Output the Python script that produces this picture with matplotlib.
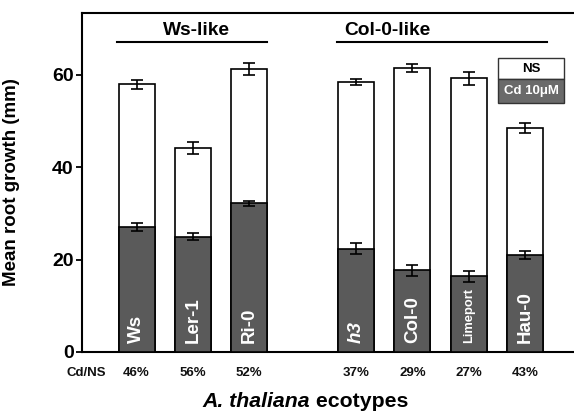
import numpy as np
import matplotlib
matplotlib.use('Agg')
import matplotlib.pyplot as plt
from matplotlib.patches import Rectangle

plt.rcParams['font.family'] = ['Liberation Sans', 'DejaVu Sans']

# data
ecotypes = ['Ws', 'Ler-1', 'Ri-0', 'h3', 'Col-0', 'Limeport', 'Hau-0']
ns_mean = [58.0, 44.2, 61.2, 58.5, 61.5, 59.3, 48.5]
ns_err = [1.0, 1.3, 1.3, 0.7, 0.9, 1.4, 1.0]
cd_mean = [27.0, 25.0, 32.2, 22.4, 17.7, 16.4, 21.0]
cd_err = [0.9, 0.7, 0.6, 1.2, 1.2, 1.2, 0.9]
ratio_labels = ['46%', '56%', '52%', '37%', '29%', '27%', '43%']
groups = ['Ws-like', 'Col-0-like']

xpos = np.array([0, 1, 2, 3.9, 4.9, 5.9, 6.9])
width = 0.64
dark = '#5a5a5a'

fig = plt.figure(figsize=(5.74, 4.13), dpi=100)
ax = fig.add_axes([0.1429, 0.1477, 0.8571, 0.8208])

# white NS bars behind, dark Cd bars in front (not stacked)
ax.bar(xpos, ns_mean, width, color='white', edgecolor='black', linewidth=1.2, zorder=2)
ax.errorbar(xpos, ns_mean, yerr=ns_err, fmt='none', ecolor='black', elinewidth=1.2,
            capsize=4, capthick=1.2, zorder=3)
ax.bar(xpos, cd_mean, width, color=dark, edgecolor='black', linewidth=1.2, zorder=4)
ax.errorbar(xpos, cd_mean, yerr=cd_err, fmt='none', ecolor='black', elinewidth=1.2,
            capsize=4, capthick=1.2, zorder=5)

# names inside the dark bars
for i in range(len(ecotypes)):
    name = ecotypes[i]
    size = 13.5
    style = 'normal'
    if name == 'Limeport':
        size = 9.3
    if name == 'h3':
        style = 'italic'
    ax.text(xpos[i], 2.0, name, rotation=90, ha='center', va='bottom', color='white',
            fontsize=size, fontweight='bold', fontstyle=style, zorder=6)

# Cd/NS row under the axis
ax.text(-0.885, -0.062, 'Cd/NS', transform=ax.get_xaxis_transform(), ha='center',
        va='center', fontsize=9.5, fontweight='bold', color='#111111')
for i in range(len(xpos)):
    ax.text(xpos[i], -0.062, ratio_labels[i], transform=ax.get_xaxis_transform(),
            ha='center', va='center', fontsize=9.5, fontweight='bold', color='#111111')

# group brackets
ax.plot([-0.35, 2.32], [67.1, 67.1], color='black', linewidth=1.5, clip_on=False)
ax.plot([3.56, 7.29], [67.1, 67.1], color='black', linewidth=1.5, clip_on=False)
ax.text(1.07, 69.7, groups[0], ha='center', va='center', fontsize=13.8, fontweight='bold')
ax.text(4.45, 69.7, groups[1], ha='center', va='center', fontsize=13.8, fontweight='bold')

# legend boxes
ax.add_patch(Rectangle((0.845, 0.805), 0.135, 0.062, transform=ax.transAxes,
                       facecolor='white', edgecolor='#333333', linewidth=1.0, zorder=6))
ax.add_patch(Rectangle((0.845, 0.735), 0.135, 0.070, transform=ax.transAxes,
                       facecolor='#6a6a6a', edgecolor='#333333', linewidth=1.0, zorder=6))
ax.text(0.9125, 0.836, 'NS', transform=ax.transAxes, ha='center', va='center',
        fontsize=9.5, fontweight='bold', zorder=7)
ax.text(0.9125, 0.770, 'Cd 10μM', transform=ax.transAxes, ha='center', va='center',
        fontsize=9.5, fontweight='bold', color='white', zorder=7)

ax.set_xlim(-0.968, 7.77)
ax.set_ylim(0, 73.4)
ax.set_xticks([])
ax.set_yticks([0, 20, 40, 60])
ax.tick_params(axis='y', direction='out', length=4, width=1.3, labelsize=14, pad=2)
for lab in ax.get_yticklabels():
    lab.set_fontweight('bold')
ax.spines['right'].set_visible(False)
for s in ['left', 'top', 'bottom']:
    ax.spines[s].set_linewidth(1.5)

ax.set_ylabel('Mean root growth (mm)', fontsize=13.5, fontweight='bold', labelpad=4)
ax.yaxis.set_label_coords(-0.127, 0.5)

# x label: italic species name followed by plain bold word, centred as a whole
t1 = fig.text(0, 0.027, 'A. thaliana', ha='left', va='center', fontsize=15.3,
              fontweight='bold', fontstyle='italic')
t2 = fig.text(0, 0.027, ' ecotypes', ha='left', va='center', fontsize=15.3,
              fontweight='bold')
fig.canvas.draw()
w1 = t1.get_window_extent().width / fig.bbox.width
w2 = t2.get_window_extent().width / fig.bbox.width
x0 = 0.532 - (w1 + w2) / 2
t1.set_x(x0)
t2.set_x(x0 + w1)

fig.savefig('out.png', dpi=100)
